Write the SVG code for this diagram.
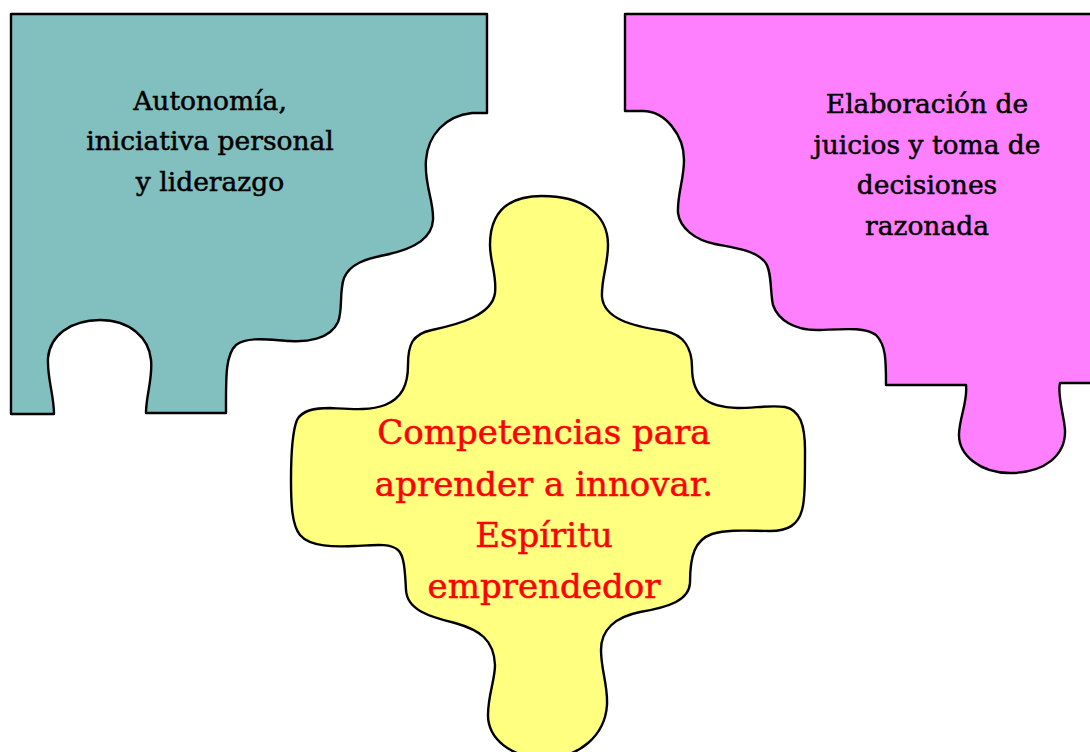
<svg xmlns="http://www.w3.org/2000/svg" width="1090" height="752" viewBox="0 0 1090 752">
<style>
.piece{stroke:#000;stroke-width:2.4;stroke-linejoin:round}
.lbl{font-family:"DejaVu Serif","Liberation Serif",serif;text-anchor:middle;stroke-width:0.5}
.blk{font-size:26.5px;fill:#000;stroke:#000}
.red{font-size:34px;fill:#ff0000;stroke:#ff0000}
</style>
<rect width="1090" height="752" fill="#fff"/>
<g id="teal">
<path class="piece" fill="#82bfbf" d="M 11,14 H 487 V 113 H 472 C 445,116 428,135 426,160 C 424,185 434,200 433,220 C 432,240 410,250 385,255 C 365,259 350,264 344,278 C 339,292 343,310 338,322 C 330,340 305,342 290,341 C 270,340 248,336 236,345 C 225,355 226,380 226,413 H 146 C 146,395 153,378 151,360 C 149,338 130,320 100,320 C 70,320 50,336 48,358 C 47,378 54,395 54,414 H 11 Z"/>
<text class="lbl blk" x="210" y="110">Autonomía,</text>
<text class="lbl blk" x="210" y="150">iniciativa personal</text>
<text class="lbl blk" x="210" y="191">y liderazgo</text>
</g>
<g id="magenta">
<path class="piece" fill="#ff80ff" d="M 625,14 H 1095 V 383 H 1060 C 1057,395 1064,415 1065,430 C 1066,455 1045,473 1010,473 C 980,473 959,455 959,435 C 959,418 968,402 966,385 H 886 C 886,360 886,345 876,335 C 865,327 845,329 820,330 C 795,331 778,320 773,305 C 770,292 772,270 765,262 C 755,250 735,248 715,244 C 695,240 680,228 678,213 C 677,195 684,180 684,160 C 684,135 665,111 643,111 H 625 Z"/>
<text class="lbl blk" x="927" y="113">Elaboración de</text>
<text class="lbl blk" x="927" y="154">juicios y toma de</text>
<text class="lbl blk" x="927" y="194">decisiones</text>
<text class="lbl blk" x="927" y="235">razonada</text>
</g>
<g id="yellow">
<path class="piece" fill="#ffff80" d="M 542,196 C 580,196 608,212 608,245 C 608,265 601,280 602,297 C 604,318 630,326 665,331 C 685,335 692,350 692,367 C 692,395 705,407 738,408 C 755,408 770,405 785,407 C 800,410 805,425 805,450 C 805,480 805,500 802,510 C 798,525 788,531 770,531 C 750,531 730,529 712,534 C 695,540 690,555 690,583 C 689,600 670,607 640,612 C 615,617 601,630 601,650 C 601,670 608,685 607,705 C 605,735 580,758 545,758 C 510,758 488,738 488,715 C 488,695 495,680 495,665 C 494,640 480,630 455,623 C 430,617 407,610 406,590 C 405,570 404,555 398,550 C 390,543 375,545 355,546 C 335,547 310,547 300,535 C 292,525 291,505 291,480 C 291,455 293,430 297,420 C 302,410 315,408 330,408 C 350,409 370,411 385,405 C 402,398 408,385 408,365 C 408,345 412,334 432,330 C 460,324 492,315 495,293 C 497,275 490,262 490,245 C 490,212 508,196 542,196 Z"/>
<text class="lbl red" x="544" y="444">Competencias para</text>
<text class="lbl red" x="544" y="496">aprender a innovar.</text>
<text class="lbl red" x="544" y="547">Espíritu</text>
<text class="lbl red" x="544" y="598">emprendedor</text>
</g>
</svg>
